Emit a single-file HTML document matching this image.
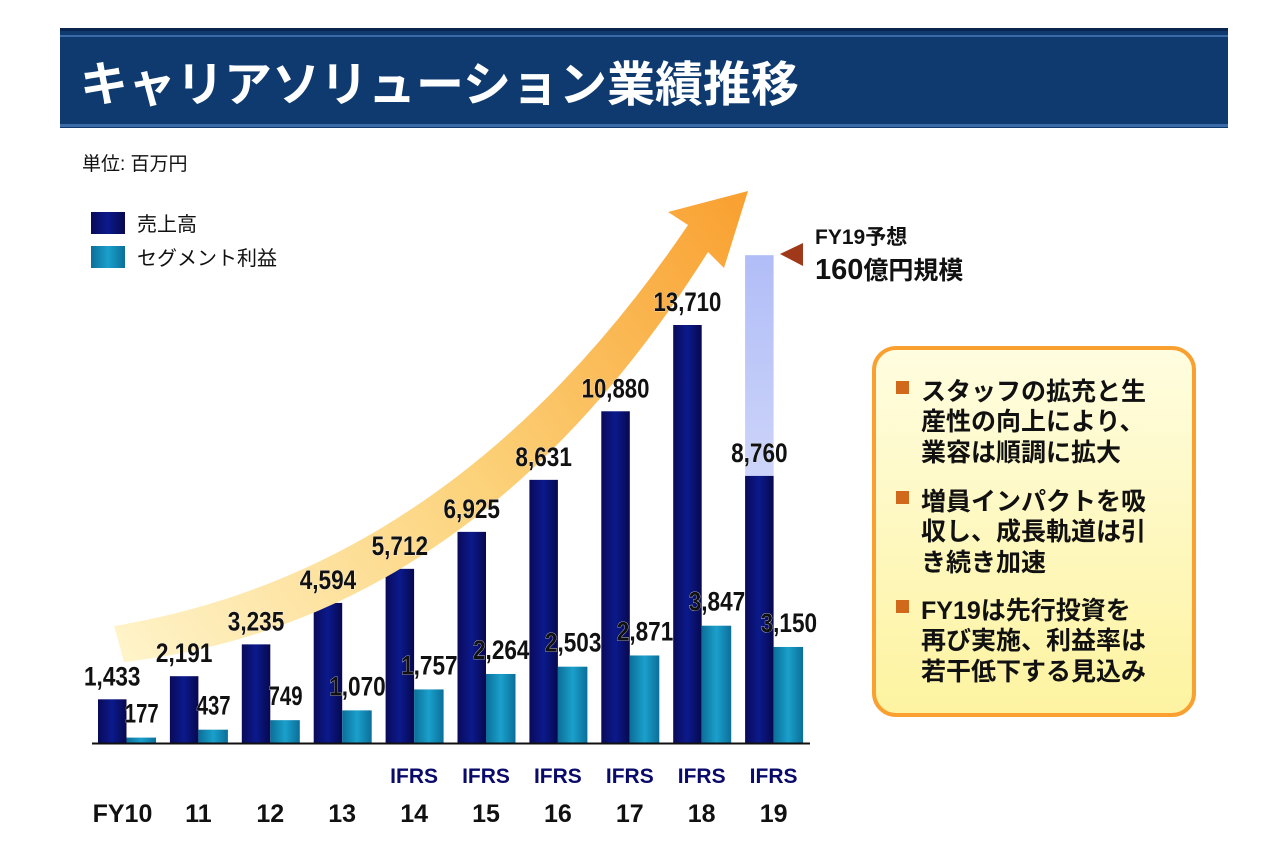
<!DOCTYPE html>
<html><head><meta charset="utf-8">
<style>
body{margin:0;width:1280px;height:850px;background:#fff;overflow:hidden;font-family:"Liberation Sans","Noto Sans CJK JP",sans-serif;}
svg{position:absolute;left:0;top:0}
</style></head><body>
<svg id="chart" width="1280" height="850">
<defs>
<linearGradient id="rev" x1="0" x2="1"><stop offset="0" stop-color="#0a0a5a"/><stop offset="0.5" stop-color="#0b1a8c"/><stop offset="1" stop-color="#07084e"/></linearGradient>
<linearGradient id="prf" x1="0" x2="1"><stop offset="0" stop-color="#0b6f98"/><stop offset="0.5" stop-color="#1aa0cc"/><stop offset="1" stop-color="#0b6f98"/></linearGradient>
<linearGradient id="fc" x1="0" y1="0" x2="0" y2="1"><stop offset="0" stop-color="#b1bdf7"/><stop offset="1" stop-color="#eef1fc"/></linearGradient>
<linearGradient id="arr" x1="120" y1="640" x2="745" y2="195" gradientUnits="userSpaceOnUse"><stop offset="0" stop-color="#fff3c8"/><stop offset="0.5" stop-color="#fcd27a"/><stop offset="1" stop-color="#f9a030"/></linearGradient>
<linearGradient id="box" x1="0" y1="0" x2="0" y2="1"><stop offset="0" stop-color="#fffde0"/><stop offset="1" stop-color="#fdf3a0"/></linearGradient>
</defs>
<rect x="60" y="28" width="1168" height="100" fill="#0f3a70"/>
<rect x="60" y="28" width="1168" height="3" fill="#0a2550"/>
<rect x="60" y="35" width="1168" height="2" fill="#3a6aa8"/>
<rect x="60" y="124" width="1168" height="3" fill="#3a6aa8"/>
<text x="80" y="101" font-size="48" font-weight="bold" fill="#fff">キャリアソリューション業績推移</text>
<text x="82" y="170" font-size="19" fill="#111">単位: 百万円</text>
<rect x="91" y="212" width="34" height="22" fill="url(#rev)"/>
<text x="137" y="231" font-size="20" fill="#111">売上高</text>
<rect x="91" y="246" width="34" height="22" fill="url(#prf)"/>
<text x="137" y="265" font-size="20" fill="#111">セグメント利益</text>
<g id="bars"></g>
<path d="M114,626 Q455,570 688,225 L668,212 L748,191 L724,268 L708,252 Q475,622 124,662 Z" fill="url(#arr)"/>
<g id="labels"></g>
<polygon points="780,254 803,243 803,266" fill="#a0381a"/>
<text x="815" y="244" font-size="21" font-weight="bold" fill="#111">FY19予想</text>
<text x="815" y="279" font-size="25" font-weight="bold" fill="#111"><tspan font-size="29">160</tspan>億円規模</text>
<rect x="874" y="348" width="320" height="367" rx="22" fill="url(#box)" stroke="#f9a030" stroke-width="4"/>
<g font-size="25" font-weight="bold" fill="#111">
<rect x="896" y="381" width="13" height="13" fill="#d06a1a"/>
<text x="921" y="400">スタッフの拡充と生</text>
<text x="921" y="430">産性の向上により、</text>
<text x="921" y="461">業容は順調に拡大</text>
<rect x="896" y="491" width="13" height="13" fill="#d06a1a"/>
<text x="921" y="510">増員インパクトを吸</text>
<text x="921" y="540">収し、成長軌道は引</text>
<text x="921" y="571">き続き加速</text>
<rect x="896" y="600" width="13" height="13" fill="#d06a1a"/>
<text x="921" y="619">FY19は先行投資を</text>
<text x="921" y="649">再び実施、利益率は</text>
<text x="921" y="680">若干低下する見込み</text>
</g>
</svg>
<script>
const years = ["FY10","11","12","13","14","15","16","17","18","19"];
const ifrs = [false,false,false,false,true,true,true,true,true,true];
const revenue = [1433,2191,3235,4594,5712,6925,8631,10880,13710,8760];
const profit = [177,437,749,1070,1757,2264,2503,2871,3847,3150];
const forecastRevenue = 16000;
const NS="http://www.w3.org/2000/svg";
const base=743, scale=418/13710, x0=98, step=71.9, bw=28.5;
const y=v=>base-v*scale;
const xg=i=>x0+i*step;
const bars=document.getElementById('bars'), labels=document.getElementById('labels');
function mk(tag,attrs,parent){const e=document.createElementNS(NS,tag);for(const k in attrs)e.setAttribute(k,attrs[k]);parent.appendChild(e);return e;}
function numLabel(str,cx,by){
  const w=str.length*11.3;
  return mk('text',{x:cx-w/2,y:by,textLength:w,lengthAdjust:'spacingAndGlyphs','font-size':27,'font-weight':'bold',fill:'#111',stroke:'#fff','stroke-width':0.6,'paint-order':'stroke'},labels);
}
const fc=mk('rect',{x:xg(9),y:y(forecastRevenue),width:bw,height:base-y(forecastRevenue),fill:'url(#fc)'},bars);


years.forEach((yr,i)=>{
  const r=mk('rect',{x:xg(i),y:y(revenue[i]),width:bw,height:base-y(revenue[i]),fill:'url(#rev)'},bars);
  
  
  const p=mk('rect',{x:xg(i)+bw,y:y(profit[i]),width:bw+1,height:base-y(profit[i]),fill:'url(#prf)'},bars);
  
  
  const rs=revenue[i].toLocaleString('en-US');
  const rl=numLabel(rs,xg(i)+bw/2,y(revenue[i])-14);
  rl.textContent=rs;
  
  
  const ps=profit[i].toLocaleString('en-US');
  const pl=numLabel(ps,xg(i)+bw*1.5+1,y(profit[i])-15);
  pl.textContent=ps;
  
  
  const xl=mk('text',{x:xg(i)+bw+(i==0?-4:0),y:822,'text-anchor':'middle','font-size':25,'font-weight':'bold',fill:'#111'},labels);
  xl.textContent=yr;
  
  
  if(ifrs[i]){
    const il=mk('text',{x:xg(i)+bw,y:783,'text-anchor':'middle','font-size':21,'font-weight':'bold',fill:'#0a0a6a'},labels);
    il.textContent='IFRS';
    
    
  }
});
const ax=mk('line',{x1:92,y1:base+0.5,x2:810,y2:base+0.5,stroke:'#111','stroke-width':2},bars);


</script>
</body></html>
